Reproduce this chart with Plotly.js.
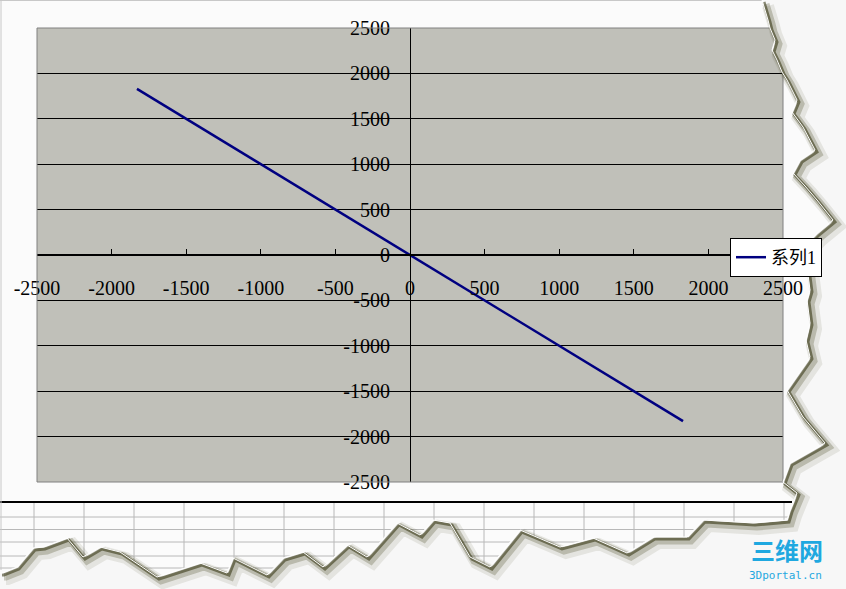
<!DOCTYPE html>
<html>
<head>
<meta charset="utf-8">
<script src="https://cdn.plot.ly/plotly-3.0.1.min.js"></script>
<style>html,body{margin:0;padding:0;background:#fbfbfb;}#chart{width:846px;height:589px;}</style>
</head>
<body>
<div id="chart"></div>
<script>
// ---- data ----
const seriesName = "系列1";
const xValues = [-1830, 0, 1830];
const yValues = [1830, 0, -1830];
const xTickValues = [-2500, -2000, -1500, -1000, -500, 0, 500, 1000, 1500, 2000, 2500];
const yTickValues = [-2500, -2000, -1500, -1000, -500, 0, 500, 1000, 1500, 2000, 2500];

// ---- decoration helpers (pixel -> paper) ----
const PL = 37, PR = 783, PT = 28, PB = 482;
const px = x => (x - PL) / (PR - PL);
const py = y => (PB - y) / (PB - PT);

const tearRight = [[762,0],[765,10],[768,20],[770,28],[775,40],[772,50],[777,60],[782,72],[787,80],[797,100],[792,112],[803,127],[815,150],[800,160],[793,173],[805,186],[817,200],[833,220],[817,233],[800,250],[807,267],[810,290],[807,300],[810,323],[806,340],[810,357],[787,390],[803,417],[825,443],[790,463],[783,482],[797,493],[790,510],[787,520]];
const tearBottom = [[753,523],[703,520],[687,537],[653,537],[627,553],[593,538],[560,547],[520,530],[490,567],[470,557],[450,523],[433,520],[420,535],[397,523],[367,557],[347,545],[323,567],[303,552],[283,558],[267,575],[233,558],[227,573],[200,563],[157,577],[120,552],[100,547],[83,557],[67,538],[43,547],[33,548],[17,567],[2,573],[0,573]];
const edge = tearRight.concat(tearBottom);
const toPath = (pts, dx, dy) => pts.map((p,i) => (i ? 'L' : 'M') + px(p[0]+dx) + ',' + py(p[1]+dy)).join(' ');

const shapes = [];
// spreadsheet grid below the chart
shapes.push({type:'line', xref:'paper', yref:'paper', x0:px(0), x1:px(792), y0:py(502), y1:py(502), line:{color:'#000', width:2}});
[517, 529.5, 542, 556, 568].forEach(y => shapes.push({type:'line', xref:'paper', yref:'paper', x0:px(0), x1:px(792), y0:py(y), y1:py(y), line:{color:'#b8b8b8', width:1}}));
for (let x = 34; x <= 784; x += 50) shapes.push({type:'line', xref:'paper', yref:'paper', x0:px(x), x1:px(x), y0:py(503), y1:py(589), line:{color:'#b8b8b8', width:1}});
// window border lines
shapes.push({type:'line', xref:'paper', yref:'paper', x0:px(0), x1:px(770), y0:py(0.5), y1:py(0.5), line:{color:'#c8c8c8', width:1}});
shapes.push({type:'line', xref:'paper', yref:'paper', x0:px(1), x1:px(1), y0:py(0), y1:py(570), line:{color:'#c8c8c8', width:1}});
// plot-area border
shapes.push({type:'rect', xref:'paper', yref:'paper', x0:0, x1:1, y0:0, y1:1, line:{color:'#808080', width:1}, layer:'above'});
// torn edge: background beyond the edge, soft shadow
const beyond = toPath(edge, 0, 0) + ' L' + px(0) + ',' + py(589) + ' L' + px(846) + ',' + py(589) + ' L' + px(846) + ',' + py(0) + ' Z';
shapes.push({type:'path', xref:'paper', yref:'paper', path:beyond, fillcolor:'#f7f7f7', line:{width:0}, layer:'above'});
shapes.push({type:'path', xref:'paper', yref:'paper', path:toPath(edge, 6, 6), line:{color:'rgba(70,70,25,0.10)', width:12}, layer:'above'});
shapes.push({type:'path', xref:'paper', yref:'paper', path:toPath(edge, 4, 4), line:{color:'rgba(60,60,20,0.25)', width:7}, layer:'above'});
shapes.push({type:'path', xref:'paper', yref:'paper', path:toPath(edge, 2, 2), line:{color:'rgba(45,45,10,0.55)', width:3}, layer:'above'});
shapes.push({type:'path', xref:'paper', yref:'paper', path:toPath(edge, 0, 0), line:{color:'#ffffff', width:1}, layer:'above'});

const tickFont = {family:'"Liberation Serif", "DejaVu Serif", serif', size:20, color:'#000'};

const trace = {
  type:'scatter', mode:'lines', name:seriesName,
  x:xValues, y:yValues,
  line:{color:'#000080', width:2.5}
};

const layout = {
  width:846, height:589,
  margin:{l:PL, r:846-PR, t:PT, b:589-PB, pad:0},
  paper_bgcolor:'#fbfbfb', plot_bgcolor:'#c0c0b9',
  showlegend:true,
  legend:{x:px(730), xanchor:'left', y:py(238), yanchor:'top', bgcolor:'#ffffff', bordercolor:'#000', borderwidth:1,
          font:{family:'"Liberation Serif", "Noto Sans CJK SC", serif', size:18, color:'#000'}, itemwidth:30},
  xaxis:{range:[-2500,2500], tickvals:xTickValues, ticktext:xTickValues.map(v => (v<0?'-':'') + Math.abs(v)),
         anchor:'free', position:0.5, showgrid:false, zeroline:false,
         showline:true, linecolor:'#000', linewidth:2,
         ticks:'inside', ticklen:5, tickwidth:1, tickcolor:'#000', ticklabelstandoff:15,
         tickfont:tickFont, fixedrange:true},
  yaxis:{range:[-2500,2500], tickvals:yTickValues, ticktext:yTickValues.map(v => (v<0?'-':'') + Math.abs(v)),
         anchor:'free', position:0.5, showgrid:true, gridcolor:'#000', gridwidth:1, zeroline:false,
         showline:true, linecolor:'#000', linewidth:1,
         ticks:'inside', ticklen:5, tickwidth:1, tickcolor:'#000', ticklabelstandoff:16,
         tickfont:tickFont, fixedrange:true},
  shapes:shapes,
  annotations:[
    {xref:'paper', yref:'paper', x:px(787), y:py(549), text:'<b>三维网</b>', showarrow:false, xanchor:'center', yanchor:'middle',
     font:{family:'"Noto Sans CJK SC", sans-serif', size:24, color:'#1fa8e0'}},
    {xref:'paper', yref:'paper', x:px(786), y:py(575), text:'3Dportal.cn', showarrow:false, xanchor:'center', yanchor:'middle',
     font:{family:'"DejaVu Sans Mono", monospace', size:11, color:'#1fa8e0'}}
  ]
};

Plotly.newPlot('chart', [trace], layout, {displayModeBar:false, staticPlot:true});
</script>
</body>
</html>
